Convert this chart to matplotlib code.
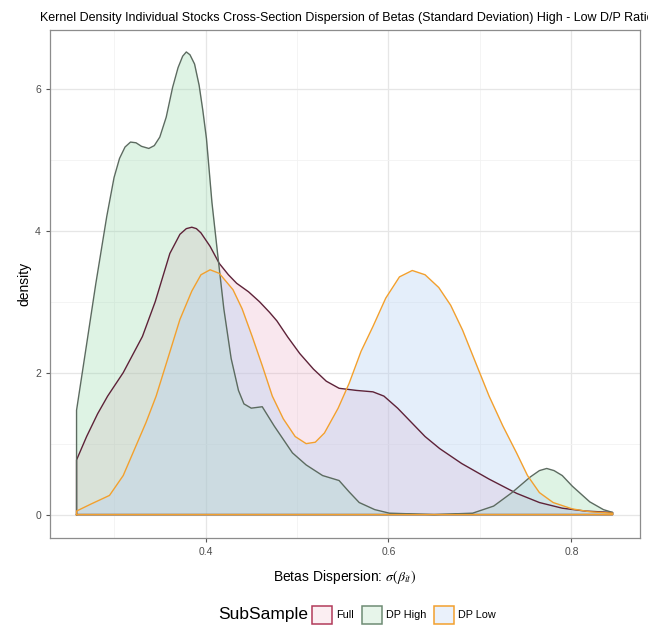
import matplotlib
matplotlib.use("Agg")
import matplotlib.pyplot as plt
from matplotlib.patches import Patch
import numpy as np

plt.rcParams['font.family'] = ['Liberation Sans', 'DejaVu Sans']
plt.rcParams['mathtext.fontset'] = 'stix'

# density curves
full_x = [0.259, 0.270, 0.282, 0.293, 0.310, 0.331, 0.345, 0.361, 0.372, 0.379, 0.385,
          0.390, 0.395, 0.405, 0.415, 0.425, 0.434, 0.447, 0.459, 0.470, 0.478, 0.490,
          0.503, 0.518, 0.532, 0.546, 0.565, 0.583, 0.595, 0.610, 0.625, 0.640, 0.656,
          0.680, 0.710, 0.740, 0.765, 0.790, 0.815, 0.845]
full_y = [0.77, 1.10, 1.42, 1.67, 2.00, 2.51, 3.00, 3.68, 3.95, 4.03, 4.05,
          4.03, 3.97, 3.78, 3.54, 3.38, 3.26, 3.14, 3.00, 2.85, 2.73, 2.50,
          2.27, 2.05, 1.88, 1.78, 1.75, 1.73, 1.67, 1.50, 1.30, 1.10, 0.93,
          0.72, 0.50, 0.30, 0.17, 0.09, 0.05, 0.03]

high_x = [0.259, 0.270, 0.280, 0.292, 0.300, 0.306, 0.312, 0.318, 0.324, 0.330, 0.338,
          0.344, 0.350, 0.357, 0.364, 0.370, 0.375, 0.379, 0.383, 0.388, 0.393, 0.397,
          0.401, 0.407, 0.413, 0.420, 0.428, 0.436, 0.442, 0.450, 0.462, 0.475, 0.495,
          0.510, 0.528, 0.546, 0.557, 0.568, 0.585, 0.601, 0.650, 0.692, 0.715, 0.735,
          0.755, 0.765, 0.773, 0.781, 0.790, 0.801, 0.820, 0.835, 0.845]
high_y = [1.47, 2.40, 3.25, 4.20, 4.75, 5.02, 5.18, 5.25, 5.24, 5.19, 5.16,
          5.20, 5.32, 5.60, 6.02, 6.30, 6.46, 6.52, 6.48, 6.35, 6.05, 5.70,
          5.30, 4.40, 3.70, 2.90, 2.20, 1.75, 1.56, 1.50, 1.52, 1.25, 0.87,
          0.70, 0.55, 0.48, 0.32, 0.17, 0.07, 0.02, 0.00, 0.02, 0.12, 0.31,
          0.53, 0.62, 0.65, 0.62, 0.55, 0.40, 0.18, 0.07, 0.03]

low_x = [0.259, 0.275, 0.295, 0.310, 0.325, 0.335, 0.346, 0.360, 0.372, 0.385, 0.395,
         0.405, 0.415, 0.430, 0.440, 0.451, 0.462, 0.473, 0.485, 0.498, 0.510, 0.520,
         0.530, 0.545, 0.557, 0.570, 0.583, 0.597, 0.612, 0.626, 0.640, 0.655, 0.668,
         0.681, 0.695, 0.710, 0.725, 0.740, 0.752, 0.765, 0.780, 0.801, 0.820, 0.845]
low_y = [0.05, 0.15, 0.27, 0.55, 1.00, 1.30, 1.67, 2.25, 2.75, 3.15, 3.38,
         3.45, 3.40, 3.17, 2.90, 2.51, 2.10, 1.67, 1.35, 1.10, 1.00, 1.02,
         1.15, 1.50, 1.85, 2.30, 2.65, 3.05, 3.35, 3.44, 3.38, 3.20, 2.95,
         2.60, 2.15, 1.67, 1.25, 0.87, 0.55, 0.31, 0.17, 0.08, 0.04, 0.02]

labels = ["Full", "DP High", "DP Low"]
line_colors = ["#5E2238", "#5C6B60", "#F2A02E"]
fill_colors = ["#E8A2BE", "#92D8A8", "#B4CFF2"]
fill_alpha = [0.25, 0.3, 0.35]
key_edges = ["#B23A5A", "#6E8C74", "#F2A02E"]
key_fills = ["#FBEEF2", "#E7F5EA", "#EAF1FB"]

fig = plt.figure(figsize=(6.48, 6.28), dpi=100)
ax = fig.add_axes([0.0772, 0.1433, 0.9105, 0.809])

series = [(full_x, full_y), (high_x, high_y), (low_x, low_y)]
for (xs, ys), lc, fc, a in zip(series, line_colors, fill_colors, fill_alpha):
    xs = np.array(xs)
    ys = np.array(ys)
    ax.fill_between(xs, 0, ys, color=fc, alpha=a, linewidth=0)
    # closed outline like geom_density
    px = np.concatenate([[xs[0]], xs, [xs[-1], xs[0]]])
    py = np.concatenate([[0], ys, [0, 0]])
    ax.plot(px, py, color=lc, linewidth=1.0, solid_joinstyle='round')

ax.set_xlim(0.23, 0.875)
ax.set_ylim(-0.33, 6.83)
ax.set_xticks([0.4, 0.6, 0.8])
ax.set_xticklabels(["0.4", "0.6", "0.8"])
ax.set_yticks([0, 2, 4, 6])
ax.set_xticks([0.3, 0.5, 0.7], minor=True)
ax.set_yticks([1, 3, 5], minor=True)
ax.grid(True, which='major', color='#E6E6E6', linewidth=0.9)
ax.grid(True, which='minor', color='#F2F2F2', linewidth=0.6)
ax.set_axisbelow(True)
ax.tick_params(which='major', colors='#555555', labelsize=7.5, length=3, width=0.8, labelcolor='#4D4D4D')
ax.tick_params(which='minor', length=0)
for s in ax.spines.values():
    s.set_color('#8C8C8C')
    s.set_linewidth(0.9)

ax.set_xlabel(r"Betas Dispersion: $\sigma(\beta_{it})$", fontsize=10, labelpad=8)
ax.set_ylabel("density", fontsize=10, labelpad=3)
fig.text(0.062, 0.962, "Kernel Density Individual Stocks Cross-Section Dispersion of Betas "
         "(Standard Deviation) High - Low D/P Ratio", fontsize=9, va='bottom')

# legend with title on the left
fig.text(0.336, 0.021, "SubSample", fontsize=12.5, va='center')
handles = [Patch(facecolor=fc, edgecolor=ec, linewidth=1.1)
           for fc, ec in zip(key_fills, key_edges)]
fig.legend(handles, labels, loc='center left', bbox_to_anchor=(0.482, 0.021), ncol=3,
           frameon=False, fontsize=7.8, handlelength=1.8, handleheight=2.2,
           handletextpad=0.4, columnspacing=0.75, borderaxespad=0, borderpad=0)

fig.savefig("out.png", dpi=100)
